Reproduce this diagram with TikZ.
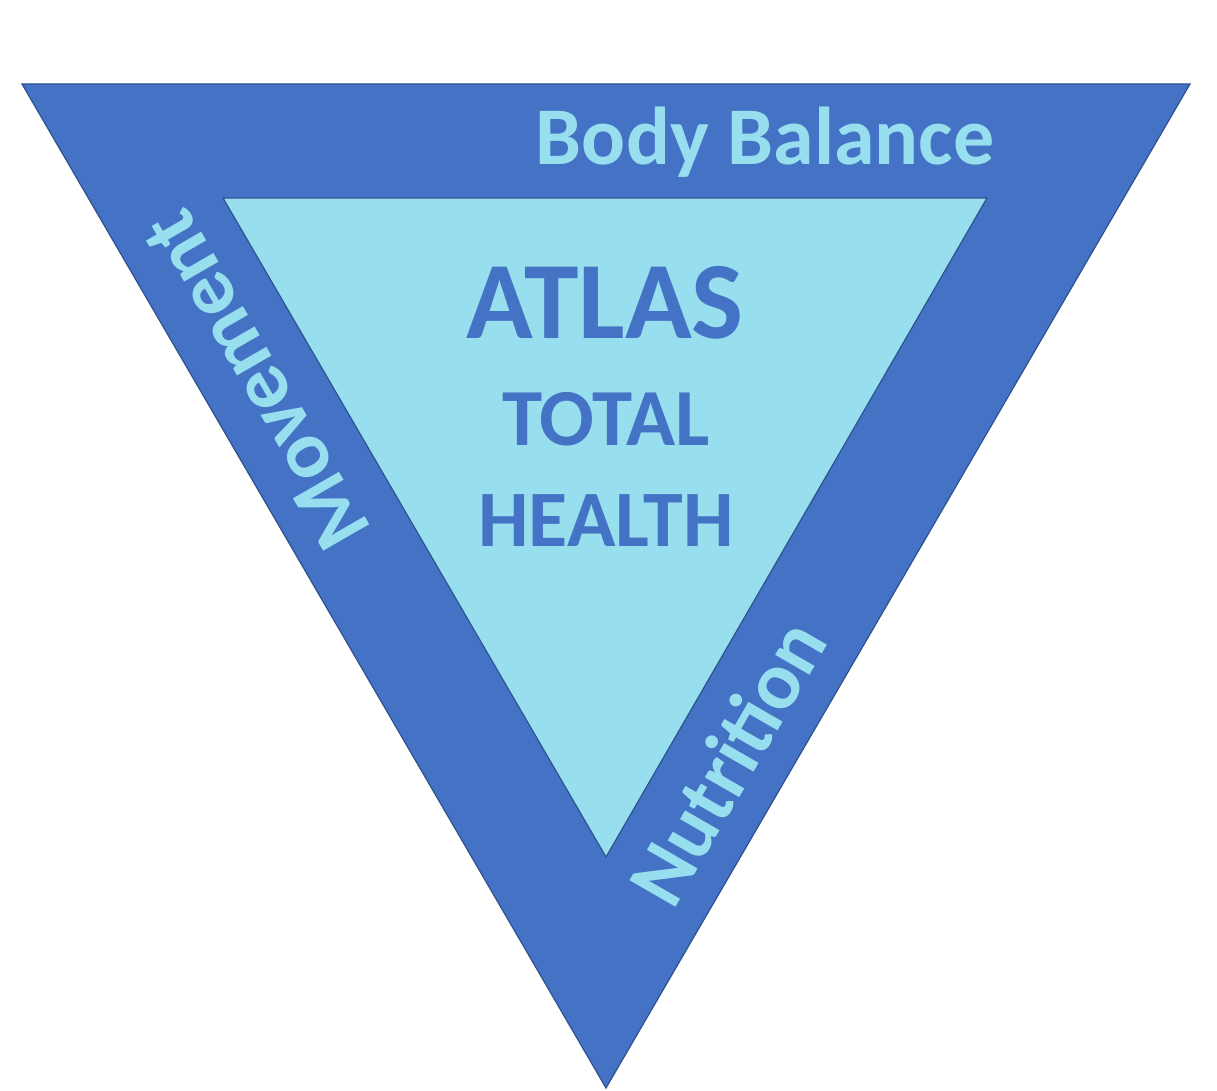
\documentclass[tikz,border=0pt]{standalone}
\usepackage{fontspec}
\setmainfont{Carlito}
\definecolor{outerblue}{HTML}{4472C4}
\definecolor{innercyan}{HTML}{97DFEE}
\definecolor{edgeblue}{HTML}{2F528F}
\begin{document}
\begin{tikzpicture}[x=1pt,y=-1pt,
  band/.style={fill=outerblue,draw=edgeblue,line width=1.2pt,line join=miter},
  core/.style={fill=innercyan,draw=edgeblue,line width=1.2pt,line join=miter},
  sidelabel/.style={text=innercyan,font=\fontsize{82}{82}\selectfont\bfseries,inner sep=0pt},
  corelabel/.style={text=outerblue,inner sep=0pt}]
\useasboundingbox (0,0) rectangle (1217,1091);
\coordinate (o1) at (22,84);
\coordinate (o2) at (1190,84);
\coordinate (o3) at (606,1088);
\coordinate (i1) at (223,198);
\coordinate (i2) at (987,198);
\coordinate (i3) at (606,857);
\draw[band] (o1) -- (o2) -- (o3) -- cycle;
\draw[core] (i1) -- (i2) -- (i3) -- cycle;
\node[sidelabel,anchor=base] (body) at (765,165) {Body Balance};
\node[sidelabel,rotate=120] (move) at (256,380) {Movement};
\node[sidelabel,rotate=60] (nutr) at (727,762) {Nutrition};
\node[corelabel,anchor=base,font=\fontsize{110}{110}\selectfont\bfseries] (atlas) at (605,338) {ATLAS};
\node[corelabel,anchor=base,font=\fontsize{81}{81}\selectfont\bfseries] (total) at (606,445) {TOTAL};
\node[corelabel,anchor=base,font=\fontsize{80}{80}\selectfont\bfseries] (health) at (606,546) {HEALTH};
\end{tikzpicture}
\end{document}
